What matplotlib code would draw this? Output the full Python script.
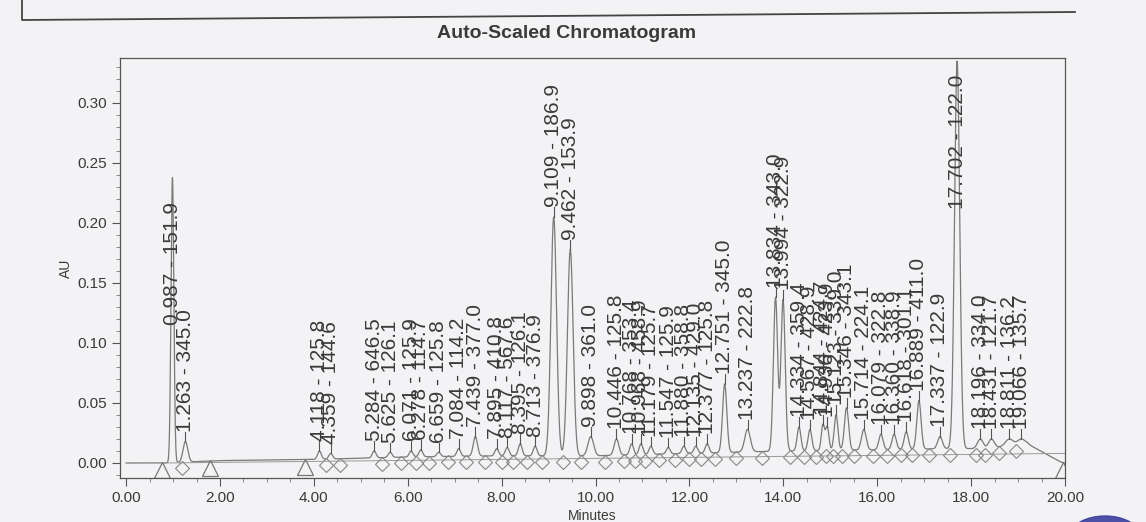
import numpy as np
import matplotlib.pyplot as plt
from matplotlib.ticker import MultipleLocator, FormatStrFormatter
from matplotlib.patches import Ellipse

# peaks: retention time (min), wavelength label, apex height (AU), width (min)
peak_rt = [0.987, 1.263, 4.118, 4.359, 5.284, 5.625, 6.071, 6.278, 6.659, 7.084,
           7.439, 7.895, 8.117, 8.395, 8.713, 9.109, 9.462, 9.898, 10.446, 10.768,
           10.968, 11.179, 11.547, 11.880, 12.135, 12.377, 12.751, 13.237, 13.834, 13.994,
           14.334, 14.567, 14.844, 14.936, 15.123, 15.346, 15.714, 16.079, 16.360, 16.618,
           16.889, 17.337, 17.702, 18.196, 18.431, 18.811, 19.066]
peak_nm = ['151.9', '345.0', '125.8', '144.6', '646.5', '126.1', '125.9', '114.7', '125.8', '114.2',
           '377.0', '410.8', '567.6', '126.1', '376.9', '186.9', '153.9', '361.0', '125.8', '353.4',
           '458.9', '125.7', '125.9', '358.8', '429.0', '125.8', '345.0', '222.8', '343.0', '322.9',
           '359.4', '428.9', '424.7', '423.9', '339.0', '343.1', '224.1', '322.8', '338.9', '301.1',
           '411.0', '122.9', '122.0', '334.0', '121.7', '136.2', '135.7']
peak_au = [0.238, 0.018, 0.010, 0.008, 0.010, 0.009, 0.010, 0.011, 0.009, 0.012,
           0.022, 0.012, 0.013, 0.016, 0.014, 0.205, 0.178, 0.022, 0.020, 0.016,
           0.016, 0.014, 0.013, 0.014, 0.014, 0.016, 0.066, 0.028, 0.138, 0.136,
           0.030, 0.028, 0.032, 0.030, 0.040, 0.046, 0.028, 0.024, 0.024, 0.026,
           0.052, 0.022, 0.335, 0.020, 0.020, 0.020, 0.020]
peak_w = [0.03, 0.05, 0.04, 0.04, 0.04, 0.04, 0.04, 0.04, 0.04, 0.04,
          0.045, 0.04, 0.04, 0.04, 0.04, 0.06, 0.06, 0.06, 0.05, 0.04,
          0.04, 0.04, 0.04, 0.04, 0.04, 0.04, 0.045, 0.06, 0.045, 0.045,
          0.04, 0.04, 0.035, 0.035, 0.04, 0.045, 0.05, 0.045, 0.045, 0.045,
          0.045, 0.05, 0.055, 0.06, 0.06, 0.08, 0.08]

# baseline drift of the trace
base_t = [0.0, 0.8, 2.0, 4.0, 6.0, 8.0, 10.0, 12.0, 14.0, 16.0, 17.5, 18.3, 19.2, 19.9, 20.0]
base_au = [0.0, 0.0, 0.002, 0.003, 0.005, 0.006, 0.006, 0.008, 0.010, 0.011, 0.012, 0.012, 0.016, 0.001, 0.0]

# integration marks at the baseline
tri_t = [0.77, 1.79, 3.81, 19.95]
dia_t = [1.19, 4.25, 4.55, 5.45, 5.85, 6.17, 6.45, 6.85, 7.25, 7.65, 8.0, 8.25, 8.55, 8.85,
         9.3, 9.7, 10.2, 10.6, 10.85, 11.05, 11.35, 11.7, 12.0, 12.25, 12.55, 13.0, 13.55,
         14.15, 14.45, 14.7, 14.9, 15.05, 15.25, 15.5, 15.9, 16.2, 16.5, 16.75, 17.1, 17.55,
         18.1, 18.3, 18.6, 18.95]

bg = '#f3f3f5'
ink = '#3a3a3a'
plt.rcParams['font.family'] = ['Liberation Sans', 'DejaVu Sans']

fig = plt.figure(figsize=(11.46, 5.22), dpi=100, facecolor=bg)
ax = fig.add_axes([120/1146, 44/522, 945/1146, 420/522], facecolor=bg)
ymin, ymax = -0.0125, 0.3375
ax.set_xlim(-0.13, 20.0)
ax.set_ylim(ymin, ymax)

t = np.linspace(0, 20, 5000)
trace = np.interp(t, base_t, base_au)
for rt, h, w in zip(peak_rt, peak_au, peak_w):
    amp = h - np.interp(rt, base_t, base_au)
    trace = trace + amp * np.exp(-0.5 * ((t - rt) / w) ** 2)
ax.plot(t, trace, color='#7a7a7a', lw=0.9)
ax.plot([0.77, 20.0], [0.0, 0.008], color='#9a9a9a', lw=0.7)

# peak labels
lab_len = 0.115
gap = 0.008
for rt, nm, h in zip(peak_rt, peak_nm, peak_au):
    if h + gap + lab_len <= ymax:
        y0 = h + gap
        ax.plot([rt, rt], [h, y0], color='#555555', lw=0.8)
    else:
        y0 = h - gap - lab_len
    ax.text(rt, y0, f'{rt:.3f} - {nm}', rotation=90, ha='center', va='bottom',
            fontsize=15, color=ink)

ax.plot(tri_t, np.interp(tri_t, base_t, base_au) - 0.006, ls='none', marker='^',
        ms=11, mfc='none', mec='#777777', mew=0.9)
ax.plot(dia_t, np.interp(dia_t, base_t, base_au) - 0.005, ls='none', marker='D',
        ms=7, mfc='none', mec='#888888', mew=0.8)

ax.xaxis.set_major_locator(MultipleLocator(2))
ax.xaxis.set_minor_locator(MultipleLocator(0.5))
ax.yaxis.set_major_locator(MultipleLocator(0.05))
ax.yaxis.set_minor_locator(MultipleLocator(0.01))
ax.xaxis.set_major_formatter(FormatStrFormatter('%.2f'))
ax.yaxis.set_major_formatter(FormatStrFormatter('%.2f'))
ax.tick_params(which='major', length=6, color='#555555', labelsize=11, labelcolor=ink)
ax.tick_params(which='minor', length=3, color='#777777')
for s in ax.spines.values():
    s.set_color('#555555')
    s.set_linewidth(0.9)

ax.set_xlabel('Minutes', fontsize=10, color=ink, labelpad=3)
ax.set_ylabel('AU', fontsize=10, color=ink, labelpad=3)
fig.text(567/1146, 1 - 33/522, 'Auto-Scaled Chromatogram', ha='center', va='center',
         fontsize=14, fontweight='bold', color=ink)

# page border and stamp edge from the scan
fig.add_artist(plt.Line2D([22/1146, 22/1146, 1075/1146], [1.0, 1 - 20/522, 1 - 12/522],
                          color='#444444', lw=1.3))
fig.add_artist(Ellipse((1105/1146, -14/522), 70/1146, 40/522, color='#3b3f9e', alpha=0.9))

fig.savefig('out.png', dpi=100, facecolor=bg)
